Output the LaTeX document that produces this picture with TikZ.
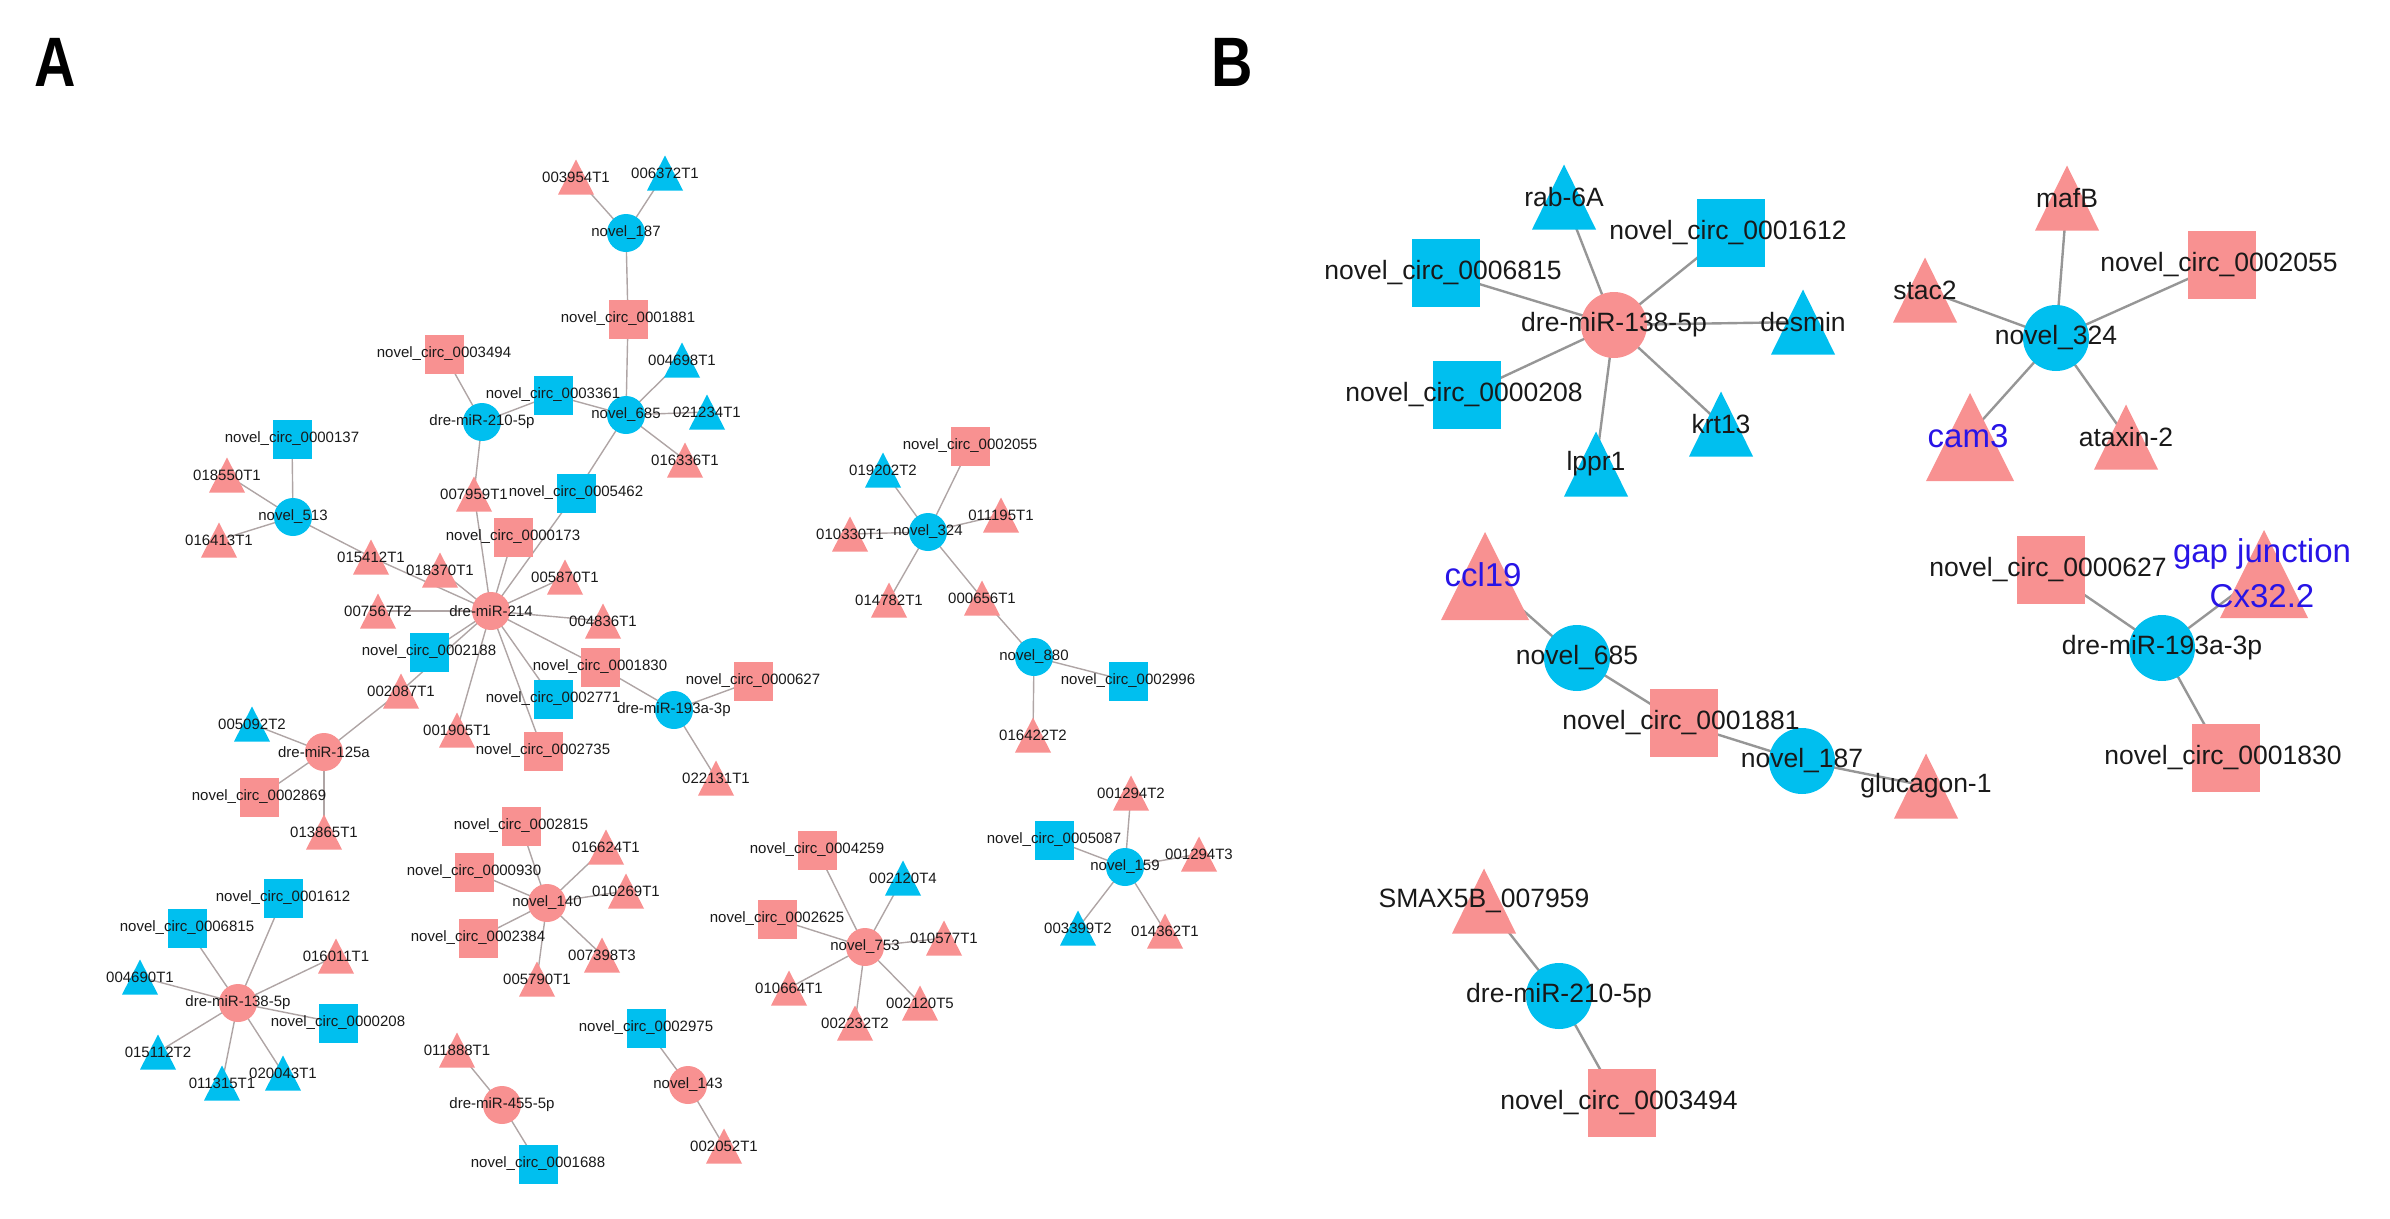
\documentclass[tikz,border=0pt]{standalone}
\usepackage{fontspec}
\setmainfont{Liberation Sans}
\usepackage{graphicx}
\pgfdeclarelayer{bg}
\pgfdeclarelayer{fg}
\pgfsetlayers{bg,main,fg}
\definecolor{pk}{RGB}{248,145,145}
\definecolor{bl}{RGB}{0,191,239}
\definecolor{bt}{RGB}{40,20,230}
\definecolor{lab}{RGB}{25,25,25}
\definecolor{edA}{RGB}{175,165,165}
\definecolor{edB}{RGB}{150,150,150}
\tikzset{
  labA/.style={inner sep=0pt, text=lab, font=\fontsize{15}{15}\selectfont},
  labB/.style={inner sep=0pt, text=lab, font=\fontsize{26.5}{28}\selectfont},
  labBb/.style={inner sep=0pt, text=bt, align=center, font=\fontsize{33}{45}\selectfont},
  edgeA/.style={draw=edA, line width=1.4pt},
  edgeB/.style={draw=edB, line width=2.4pt},
  panel/.style={inner sep=0pt, font=\fontsize{70}{70}\selectfont\bfseries}
}
\newcommand\lblA[4]{\begin{pgfonlayer}{fg}\node[labA] (#1) at (#2,#3) {#4};\end{pgfonlayer}}
\newcommand\lblB[5]{\begin{pgfonlayer}{fg}\node[#5] (#1) at (#2,#3) {#4};\end{pgfonlayer}}
\newcommand\cirA[5]{\fill[#4] (#2,#3) circle[radius=19]; \lblA{#1}{#2}{#3}{#5}}
\newcommand\sqA[5]{\fill[#4] (#2-19.5,#3-19.5) rectangle (#2+19.5,#3+19.5); \lblA{#1}{#2}{#3}{#5}}
\newcommand\triA[5]{\fill[#4] (#2-18,#3+17.5) -- (#2+18,#3+17.5) -- (#2,#3-17.5) -- cycle; \lblA{#1}{#2}{#3}{#5}}
\newcommand\cirB[5]{\fill[#4] (#2,#3) circle[radius=33]; \lblB{#1}{#2}{#3}{#5}{labB}}
\newcommand\sqB[5]{\fill[#4] (#2-34,#3-34) rectangle (#2+34,#3+34); \lblB{#1}{#2-3}{#3}{#5}{labB}}
\newcommand\triB[5]{\fill[#4] (#2-32,#3+32.5) -- (#2+32,#3+32.5) -- (#2,#3-32.5) -- cycle; \lblB{#1}{#2}{#3}{#5}{labB}}
\newcommand\bigB[5]{\fill[#4] (#2-44,#3+44) -- (#2+44,#3+44) -- (#2,#3-44) -- cycle; \lblB{#1}{#2-2}{#3-1}{#5}{labBb}}
\begin{document}
\begin{tikzpicture}[x=1pt,y=-1pt]
\useasboundingbox (0,0) rectangle (2390,1218);
\node[panel] (pA) at (55,62) {\scalebox{0.82}[1]{A}};
\node[panel] (pB) at (1232,62) {\scalebox{0.82}[1]{B}};
% ---------------- Panel A ----------------
\triA{t3954}{576}{177}{pk}{003954T1}
\triA{t6372}{665}{173}{bl}{006372T1}
\cirA{m187}{626}{233}{bl}{novel\_187}
\sqA{c1881}{628}{319}{pk}{novel\_circ\_0001881}
\sqA{c3494}{444}{354}{pk}{novel\_circ\_0003494}
\triA{t4698}{682}{360}{bl}{004698T1}
\sqA{c3361}{553}{395}{bl}{novel\_circ\_0003361}
\cirA{m685}{626}{415}{bl}{novel\_685}
\triA{t1234}{707}{412}{bl}{021234T1}
\cirA{m210}{482}{422}{bl}{dre-miR-210-5p}
\triA{t6336}{685}{460}{pk}{016336T1}
\sqA{c0137}{292}{439}{bl}{novel\_circ\_0000137}
\triA{t8550}{227}{475}{pk}{018550T1}
\cirA{m513}{293}{517}{bl}{novel\_513}
\triA{t6413}{219}{540}{pk}{016413T1}
\triA{t5412}{371}{557}{pk}{015412T1}
\triA{t8370}{440}{570}{pk}{018370T1}
\triA{t7959}{474}{494}{pk}{007959T1}
\sqA{c5462}{576}{493}{bl}{novel\_circ\_0005462}
\sqA{c0173}{513}{537}{pk}{novel\_circ\_0000173}
\triA{t5870}{565}{577}{pk}{005870T1}
\cirA{m214}{491}{611}{pk}{dre-miR-214}
\triA{t7567}{378}{611}{pk}{007567T2}
\triA{t4836}{603}{621}{pk}{004836T1}
\sqA{c2188}{429}{652}{bl}{novel\_circ\_0002188}
\sqA{c1830}{600}{667}{pk}{novel\_circ\_0001830}
\triA{t2087}{401}{691}{pk}{002087T1}
\sqA{c2771}{553}{699}{bl}{novel\_circ\_0002771}
\cirA{m193}{674}{710}{bl}{dre-miR-193a-3p}
\sqA{c0627}{753}{681}{pk}{novel\_circ\_0000627}
\triA{t2131}{716}{778}{pk}{022131T1}
\triA{t1905}{457}{730}{pk}{001905T1}
\sqA{c2735}{543}{751}{pk}{novel\_circ\_0002735}
\triA{t5092}{252}{724}{bl}{005092T2}
\cirA{m125}{324}{752}{pk}{dre-miR-125a}
\sqA{c2869}{259}{797}{pk}{novel\_circ\_0002869}
\triA{t3865}{324}{832}{pk}{013865T1}
\sqA{c2815}{521}{826}{pk}{novel\_circ\_0002815}
\triA{t6624}{606}{847}{pk}{016624T1}
\sqA{c0930}{474}{872}{pk}{novel\_circ\_0000930}
\triA{t0269}{626}{891}{pk}{010269T1}
\cirA{m140}{547}{903}{pk}{novel\_140}
\sqA{c2384}{478}{938}{pk}{novel\_circ\_0002384}
\triA{t7398}{602}{955}{pk}{007398T3}
\triA{t5790}{537}{979}{pk}{005790T1}
\sqA{c1612}{283}{898}{bl}{novel\_circ\_0001612}
\sqA{c6815}{187}{928}{bl}{novel\_circ\_0006815}
\triA{t6011}{336}{956}{pk}{016011T1}
\triA{t4690}{140}{977}{bl}{004690T1}
\cirA{m138}{238}{1003}{pk}{dre-miR-138-5p}
\sqA{c0208}{338}{1023}{bl}{novel\_circ\_0000208}
\triA{t5112}{158}{1052}{bl}{015112T2}
\triA{t1315}{222}{1083}{bl}{011315T1}
\triA{t0043}{283}{1073}{bl}{020043T1}
\triA{t1888}{457}{1050}{pk}{011888T1}
\cirA{m455}{502}{1105}{pk}{dre-miR-455-5p}
\sqA{c1688}{538}{1164}{bl}{novel\_circ\_0001688}
\sqA{c2975}{646}{1028}{bl}{novel\_circ\_0002975}
\cirA{m143}{688}{1085}{pk}{novel\_143}
\triA{t2052}{724}{1146}{pk}{002052T1}
\sqA{c2055}{970}{446}{pk}{novel\_circ\_0002055}
\triA{t9202}{883}{470}{bl}{019202T2}
\cirA{m324}{928}{532}{bl}{novel\_324}
\triA{t1195}{1001}{515}{pk}{011195T1}
\triA{t0330}{850}{534}{pk}{010330T1}
\triA{t4782}{889}{600}{pk}{014782T1}
\triA{t0656}{982}{598}{pk}{000656T1}
\cirA{m880}{1034}{657}{bl}{novel\_880}
\sqA{c2996}{1128}{681}{bl}{novel\_circ\_0002996}
\triA{t6422}{1033}{735}{pk}{016422T2}
\sqA{c4259}{817}{850}{pk}{novel\_circ\_0004259}
\triA{t2120d}{903}{878}{bl}{002120T4}
\sqA{c2625}{777}{919}{pk}{novel\_circ\_0002625}
\cirA{m753}{865}{947}{pk}{novel\_753}
\triA{t0577}{944}{938}{pk}{010577T1}
\triA{t0664}{789}{988}{pk}{010664T1}
\triA{t2120e}{920}{1003}{pk}{002120T5}
\triA{t2232}{855}{1023}{pk}{002232T2}
\triA{t1294b}{1131}{793}{pk}{001294T2}
\sqA{c5087}{1054}{840}{bl}{novel\_circ\_0005087}
\cirA{m159}{1125}{867}{bl}{novel\_159}
\triA{t1294c}{1199}{854}{pk}{001294T3}
\triA{t3399}{1078}{928}{bl}{003399T2}
\triA{t4362}{1165}{931}{pk}{014362T1}
% ---------------- Panel B ----------------
\cirB{bm138}{1614}{325}{pk}{dre-miR-138-5p}
\triB{btRab}{1564}{197}{bl}{rab-6A}
\sqB{bc1612}{1731}{233}{bl}{novel\_circ\_0001612}
\sqB{bc6815}{1446}{273}{bl}{novel\_circ\_0006815}
\triB{btDes}{1803}{322}{bl}{desmin}
\sqB{bc0208}{1467}{395}{bl}{novel\_circ\_0000208}
\triB{btKrt}{1721}{424}{bl}{krt13}
\triB{btLp}{1596}{464}{bl}{lppr1}
\cirB{bm324}{2056}{338}{bl}{novel\_324}
\triB{btMaf}{2067}{198}{pk}{mafB}
\triB{btStac}{1925}{290}{pk}{stac2}
\sqB{bc2055}{2222}{265}{pk}{novel\_circ\_0002055}
\bigB{btCam}{1970}{437}{pk}{cam3}
\triB{btAtx}{2126}{437}{pk}{ataxin-2}
\bigB{btCcl}{1485}{576}{pk}{ccl19}
\cirB{bm685}{1577}{658}{bl}{novel\_685}
\sqB{bc1881}{1684}{723}{pk}{novel\_circ\_0001881}
\cirB{bm187}{1802}{761}{bl}{novel\_187}
\triB{btGlu}{1926}{786}{pk}{glucagon-1}
\sqB{bc0627}{2051}{570}{pk}{novel\_circ\_0000627}
\bigB{btGap}{2264}{574}{pk}{gap junction\\Cx32.2}
\cirB{bm193}{2162}{648}{bl}{dre-miR-193a-3p}
\sqB{bc1830}{2226}{758}{pk}{novel\_circ\_0001830}
\triB{btSmax}{1484}{901}{pk}{SMAX5B\_007959}
\cirB{bm210}{1559}{996}{bl}{dre-miR-210-5p}
\sqB{bc3494}{1622}{1103}{pk}{novel\_circ\_0003494}
% ---------------- Edges ----------------
\begin{pgfonlayer}{bg}
\foreach \a/\b in {m187/t3954, m187/t6372, m187/c1881, c1881/m685,
  m685/t4698, m685/t1234, m685/t6336, m685/c3361, m685/c5462,
  m210/c3494, m210/c3361, m210/t7959, t7959/m214,
  m513/c0137, m513/t8550, m513/t6413, m513/t5412, t5412/m214,
  m214/t8370, m214/t7567, m214/c0173, m214/c5462, m214/t5870, m214/t4836,
  m214/c2188, m214/c1830, m214/t2087, m214/t1905, m214/c2771, m214/c2735,
  c1830/m193, m193/c0627, m193/t2131,
  m125/t5092, m125/t2087, m125/c2869, m125/t3865,
  m140/c2815, m140/t6624, m140/c0930, m140/t0269, m140/c2384, m140/t7398, m140/t5790,
  m138/c1612, m138/c6815, m138/t6011, m138/t4690, m138/c0208, m138/t5112, m138/t1315, m138/t0043,
  m455/t1888, m455/c1688, m143/c2975, m143/t2052,
  m324/c2055, m324/t9202, m324/t1195, m324/t0330, m324/t4782, m324/t0656,
  m880/t0656, m880/c2996, m880/t6422,
  m753/c4259, m753/t2120d, m753/c2625, m753/t0577, m753/t0664, m753/t2120e, m753/t2232,
  m159/t1294b, m159/c5087, m159/t1294c, m159/t3399, m159/t4362}
  \draw[edgeA] (\a.center) -- (\b.center);
\foreach \a/\b in {bm138/btRab, bm138/bc1612, bm138/bc6815, bm138/btDes, bm138/bc0208, bm138/btKrt, bm138/btLp,
  bm324/btMaf, bm324/btStac, bm324/bc2055, bm324/btCam, bm324/btAtx,
  btCcl/bm685, bm685/bc1881, bc1881/bm187, bm187/btGlu,
  bc0627/bm193, btGap/bm193, bm193/bc1830, btSmax/bm210, bm210/bc3494}
  \draw[edgeB] (\a.center) -- (\b.center);
\end{pgfonlayer}
\end{tikzpicture}
\end{document}
